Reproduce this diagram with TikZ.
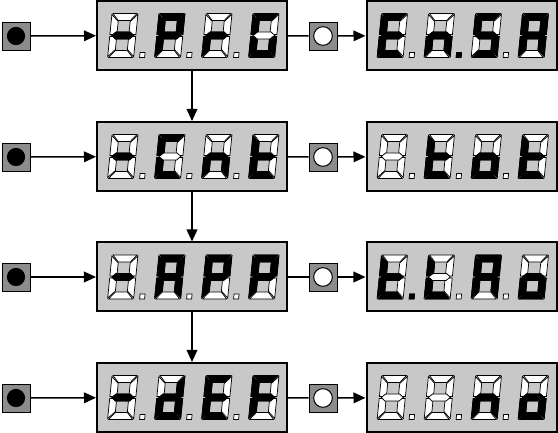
\documentclass[tikz,border=0pt]{standalone}
\usepackage{tikz}
\usetikzlibrary{arrows.meta,calc}
\usepackage{xcolor}
\definecolor{lcdgray}{RGB}{200,200,200}
\definecolor{keygray}{RGB}{140,140,140}

% segment outlines of one digit (local px, y down, origin top-left)
\tikzset{
  sg a/.style={insert path={(1,0)--(25,0)--(19,7)--(7,7)--cycle}},
  sg b/.style={insert path={(26,1)--(19,8)--(19,18)--(22.5,21)--(26,21)--cycle}},
  sg c/.style={insert path={(26,43)--(19,36)--(19,26)--(22.5,23)--(26,23)--cycle}},
  sg d/.style={insert path={(1,44)--(25,44)--(19,37)--(7,37)--cycle}},
  sg e/.style={insert path={(0,43)--(7,36)--(7,26)--(3.5,23)--(0,23)--cycle}},
  sg f/.style={insert path={(0,1)--(7,8)--(7,18)--(3.5,21)--(0,21)--cycle}},
  sg g/.style={insert path={(2,22)--(6,18.5)--(20,18.5)--(24,22)--(20,25.5)--(6,25.5)--cycle}},
  sg p/.style={insert path={(32,39)--(37,39)--(37,44)--(32,44)--cycle}},
  sg x/.style={}
}

% \lcdshow{node}{{segs of digit 1},{...},{...},{...}}
\newcommand\lcdshow[2]{%
  \foreach \segs [count=\i] in {#2} {
    \begin{scope}[shift={(#1.center)}, shift={(47*\i-127,-22)}, xslant=0.1]
      \foreach \s in {a,b,c,d,e,f,g} \filldraw[segoff, sg \s];
      \ifnum\i<4 \filldraw[segoff, sg p]; \fi
      \foreach \s in \segs \filldraw[segon, sg \s];
    \end{scope}}}

\begin{document}
\begin{tikzpicture}[
  x=0.03cm, y=-0.03cm,
  lcd/.style   ={draw=black, line width=0.06cm, fill=lcdgray,
                 minimum width=5.7cm, minimum height=2.07cm, inner sep=0pt},
  key/.style   ={draw=black, line width=0.025cm, fill=keygray,
                 minimum size=0.84cm, inner sep=0pt},
  keyon/.style ={key, path picture={\draw[fill=black]
                 (path picture bounding box.center) circle (0.26cm);}},
  keyoff/.style={key, path picture={\draw[fill=white, line width=0.03cm]
                 (path picture bounding box.center) circle (0.28cm);}},
  segoff/.style={fill=white, draw=black, line width=0.6pt},
  segon/.style ={fill=black, draw=black, line width=0.6pt},
  arr/.style   ={-{Triangle[length=0.36cm,width=0.32cm]}, line width=0.045cm},
  ln/.style    ={line width=0.045cm}
]
  \useasboundingbox (0,0) rectangle (558,433);

  %% ── Left column: parameter displays ─────────────────────────────────────
  \node[lcd] (par1) at (192,35.5)  {};
  \node[lcd] (par2) at (192,156.5) {};
  \node[lcd] (par3) at (192,277)   {};
  \node[lcd] (par4) at (192,397.5) {};

  %% ── Right column: value displays ────────────────────────────────────────
  \node[lcd] (val1) at (461.5,35.5)  {};
  \node[lcd] (val2) at (461.5,156.5) {};
  \node[lcd] (val3) at (461.5,277)   {};
  \node[lcd] (val4) at (461.5,397.5) {};

  %% ── Keys ────────────────────────────────────────────────────────────────
  \foreach \r/\y in {1/36,2/157,3/277,4/398} {
    \node[keyon]  (sel\r) at (16,\y)  {};
    \node[keyoff] (ok\r)  at (323,\y) {};
  }

  %% ── Digits ──────────────────────────────────────────────────────────────
  \lcdshow{par1}{{g},{a,b,e,f,g},{e,g},{a,c,d,e,f}}
  \lcdshow{par2}{{g},{a,d,e,f},{c,e,g},{d,e,f,g}}
  \lcdshow{par3}{{g},{a,b,c,e,f,g},{a,b,e,f,g},{a,b,e,f,g}}
  \lcdshow{par4}{{g},{b,c,d,e,g},{a,d,e,f,g},{a,e,f,g}}
  \lcdshow{val1}{{a,d,e,f,g},{c,e,g,p},{a,c,d,f,g},{a,b,c,e,f,g}}
  \lcdshow{val2}{{x},{d,e,f,g},{c,d,e,g},{d,e,f,g}}
  \lcdshow{val3}{{d,e,f,g,p},{d,e,f},{a,b,c,e,f,g},{c,d,e,g}}
  \lcdshow{val4}{{x},{x},{c,e,g},{c,d,e,g}}

  %% ── Rows: key -> parameter -> key -> value ─────────────────────────────
  \foreach \r in {1,...,4} {
    \draw[arr] (sel\r) -- (par\r);
    \draw[ln]  (par\r) -- (ok\r);
    \draw[arr] (ok\r)  -- (val\r);
  }

  %% ── Down the parameter list ─────────────────────────────────────────────
  \draw[arr] (par1) -- (par2);
  \draw[arr] (par2) -- (par3);
  \draw[arr] (par3) -- (par4);

\end{tikzpicture}
\end{document}
